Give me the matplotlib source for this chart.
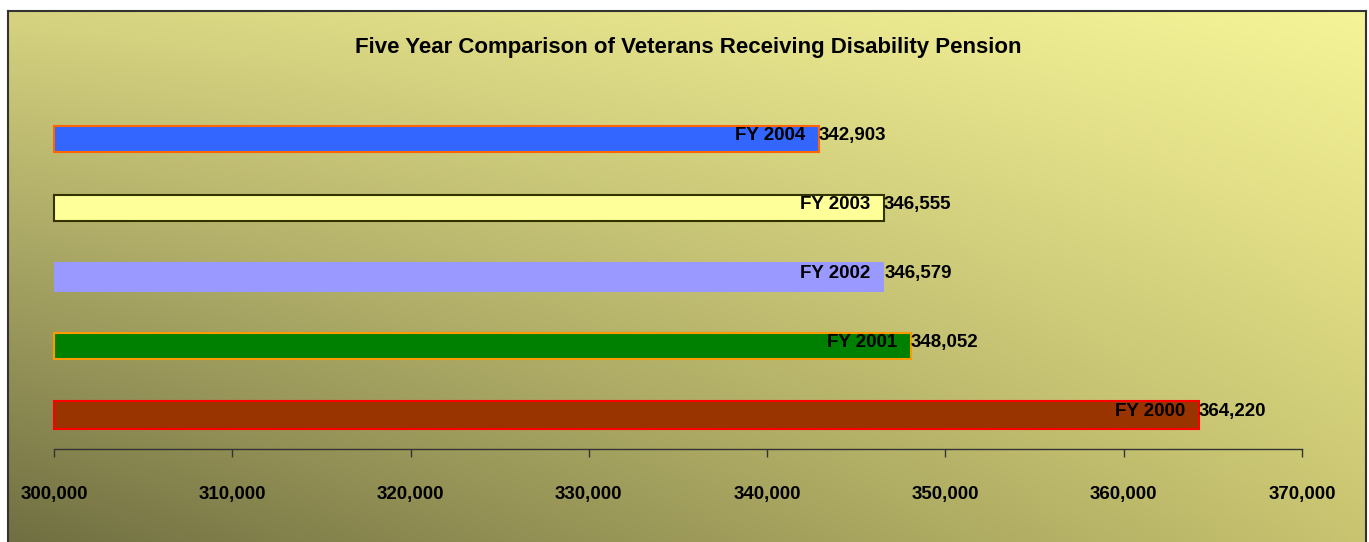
import numpy as np
import matplotlib
matplotlib.use("Agg")
import matplotlib.pyplot as plt
from matplotlib.ticker import FuncFormatter

# data, bottom to top as drawn
years = ['FY 2000', 'FY 2001', 'FY 2002', 'FY 2003', 'FY 2004']
veterans = [364220, 348052, 346579, 346555, 342903]

bar_colors = ['#993300', '#008000', '#9999ff', '#ffff99', '#3366ff']
edge_colors = ['#ff0000', '#ff9900', 'none', '#333300', '#ff6600']

plt.rcParams['font.family'] = ['Liberation Sans Narrow', 'Liberation Sans', 'DejaVu Sans']
plt.rcParams['font.weight'] = 'bold'

W, H = 1369, 542
fig = plt.figure(figsize=(W / 100, H / 100), dpi=100)
fig.patch.set_facecolor('white')

# gradient background panel with frame
bg = fig.add_axes([8 / W, 0, (1366 - 8) / W, (H - 11) / H])
bl = np.array([112, 111, 66]) / 255
br = np.array([200, 196, 112]) / 255
tl = np.array([214, 211, 128]) / 255
tr = np.array([246, 244, 152]) / 255
u = np.linspace(0, 1, 400)[None, :, None]
v = np.linspace(1, 0, 200)[:, None, None]
grad = (1 - u) * (1 - v) * bl + u * (1 - v) * br + (1 - u) * v * tl + u * v * tr
bg.imshow(grad, aspect='auto', extent=[0, 1, 0, 1], interpolation='bilinear')
bg.set_xlim(0, 1)
bg.set_ylim(0, 1)
bg.set_xticks([])
bg.set_yticks([])
for side in ['left', 'top', 'right']:
    bg.spines[side].set_color('#333333')
    bg.spines[side].set_linewidth(1.5)
bg.spines['bottom'].set_visible(False)

# main chart
x0, x1 = 54, 1302
ax_bottom, ax_top = 449, 90
ax = fig.add_axes([x0 / W, 1 - ax_bottom / H, (x1 - x0) / W, (ax_bottom - ax_top) / H])
ax.patch.set_alpha(0)

xmin, xmax = 300000, 370000
pos = np.arange(len(years))
heights = [0.40, 0.38, 0.44, 0.38, 0.38]
for i in range(len(years)):
    lw = 0 if edge_colors[i] == 'none' else 1.5
    ax.barh(pos[i], veterans[i] - xmin, left=xmin, height=heights[i],
            color=bar_colors[i], edgecolor=edge_colors[i], linewidth=lw, clip_on=False)
    ax.annotate(years[i], (veterans[i], pos[i]), xytext=(-10, 2.5), textcoords='offset points',
                ha='right', va='center', fontsize=13.5, fontweight='bold')
    ax.annotate(f'{veterans[i]:,}', (veterans[i], pos[i]), xytext=(0, 2.5), textcoords='offset points',
                ha='left', va='center', fontsize=13.5, fontweight='bold')

ax.set_xlim(xmin, xmax)
ax.set_ylim(-0.49, 4.71)
ax.set_xticks(range(xmin, xmax + 1, 10000))
ax.xaxis.set_major_formatter(FuncFormatter(lambda x, p: f'{int(x):,}'))
ax.tick_params(axis='x', direction='out', length=6, width=1, color='#333333',
               pad=21, labelsize=13.5)
for lab in ax.get_xticklabels():
    lab.set_fontweight('bold')
ax.set_yticks([])
for side in ['left', 'top', 'right']:
    ax.spines[side].set_visible(False)
ax.spines['bottom'].set_color('#333333')
ax.spines['bottom'].set_linewidth(1)

fig.text(688 / W, 1 - 47 / H, 'Five Year Comparison of Veterans Receiving Disability Pension',
         ha='center', va='center', fontsize=16, fontweight='bold')

fig.savefig('out.png', dpi=100)
